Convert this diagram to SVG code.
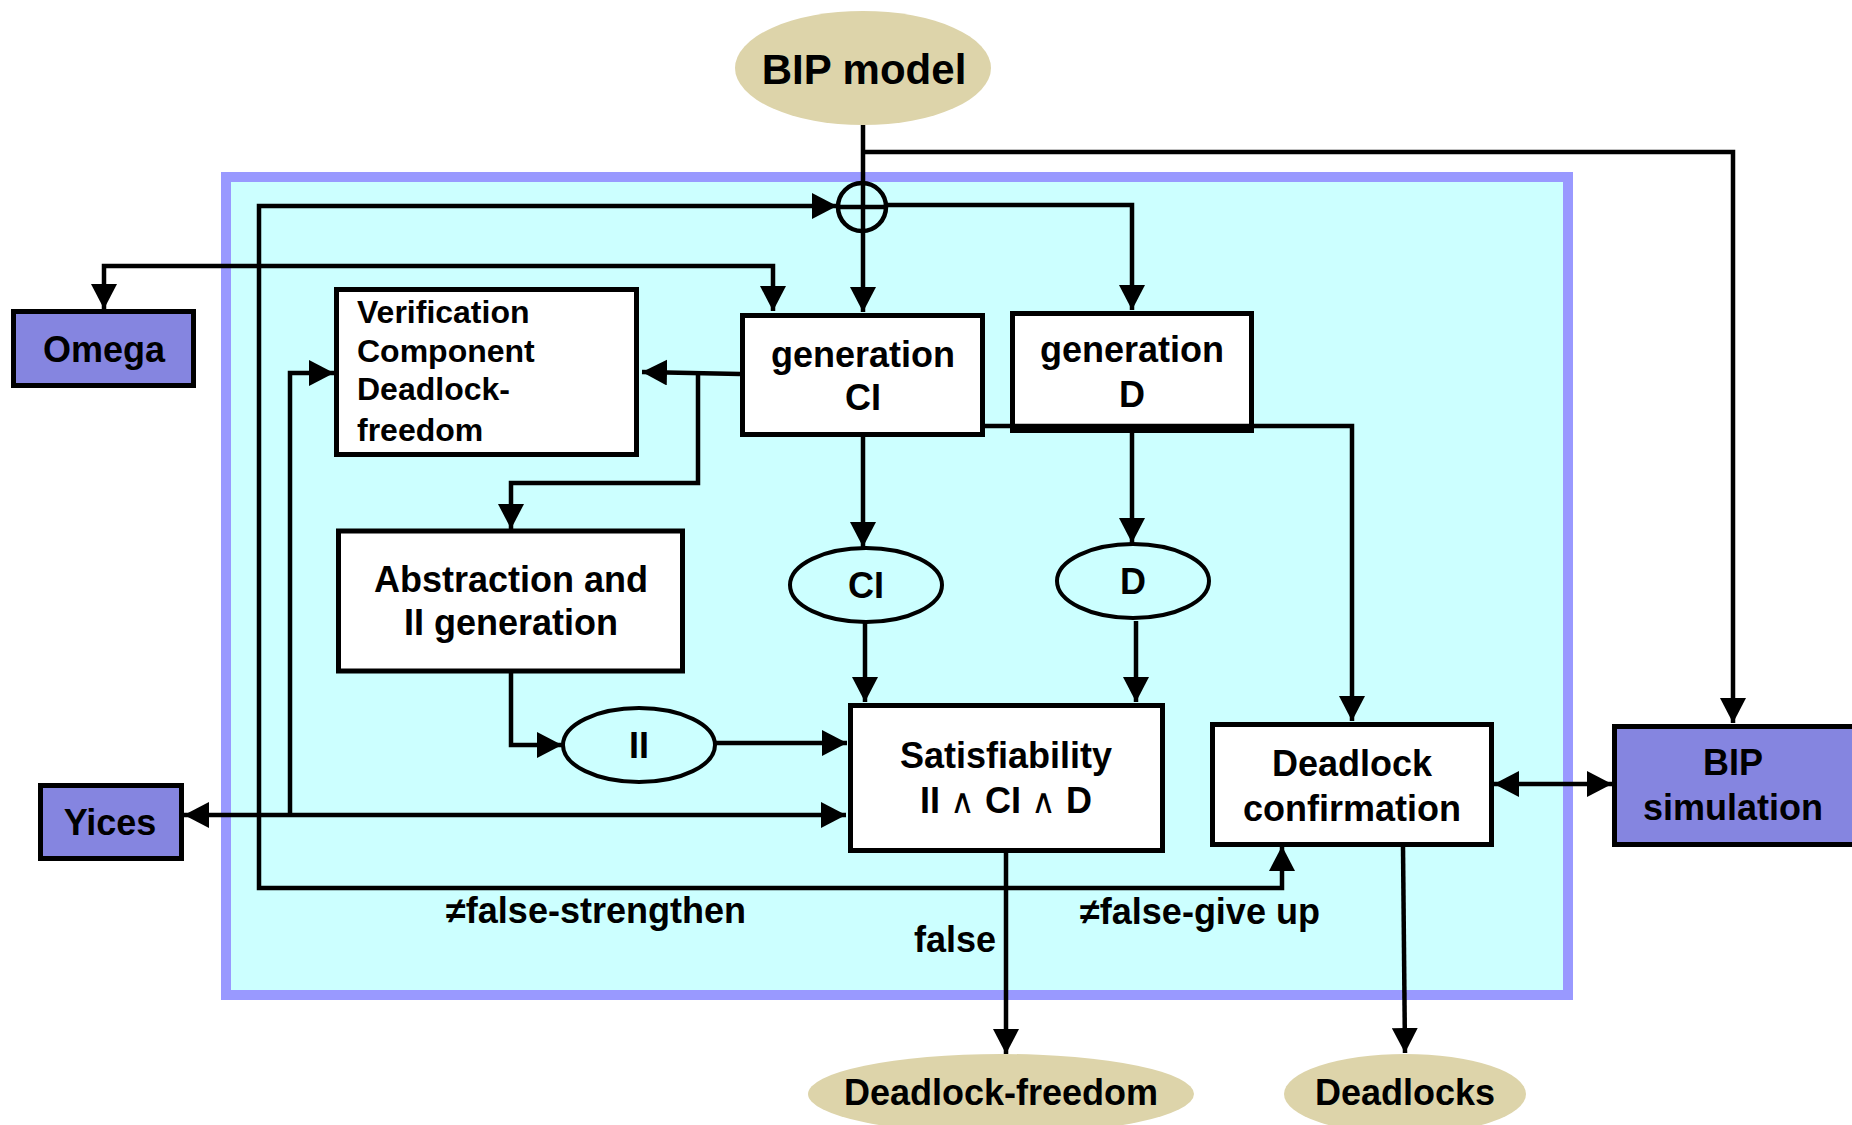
<svg xmlns="http://www.w3.org/2000/svg" width="1852" height="1125" viewBox="0 0 1852 1125">
  <style>
    text { font-family: "Liberation Sans", Arial, sans-serif; font-weight: bold; fill: #000; }
    .c { text-anchor: middle; }
    .box { fill: #fff; stroke: #000; stroke-width: 5; }
    .tool { fill: #8585e0; stroke: #000; stroke-width: 5; }
    .data { fill: none; stroke: #000; stroke-width: 4; }
    .io { fill: #ddd4aa; stroke: none; }
    .wire { fill: none; stroke: #000; stroke-width: 4.5; }
    .arr { marker-end: url(#head); }
    .both { marker-start: url(#head); marker-end: url(#head); }
    .op { font-family: "DejaVu Sans", sans-serif; font-weight: normal; font-size: 34px; }
  </style>
  <defs>
    <marker id="head" markerUnits="userSpaceOnUse" markerWidth="26" markerHeight="26" refX="25" refY="13" orient="auto-start-reverse">
      <path d="M0,0 L25,13 L0,26 z" fill="#000"/>
    </marker>
  </defs>

  <rect width="1852" height="1125" fill="#fff"/>

  <!-- verification loop frame -->
  <rect id="frame" x="226" y="177" width="1342" height="818" fill="#ccffff" stroke="#9999ff" stroke-width="10"/>

  <g id="bip-model">
    <ellipse class="io" cx="863" cy="68" rx="128" ry="57"/>
    <text class="c" x="864" y="84" font-size="42">BIP model</text>
  </g>

  <g id="omega">
    <rect class="tool" x="13.5" y="311.5" width="180" height="74"/>
    <text class="c" x="104" y="362" font-size="36">Omega</text>
  </g>

  <g id="verification">
    <rect class="box" x="336.5" y="289.5" width="300" height="165"/>
    <text x="357" y="323" font-size="32">Verification</text>
    <text x="357" y="362" font-size="32">Component</text>
    <text x="357" y="400" font-size="32">Deadlock-</text>
    <text x="357" y="441" font-size="32">freedom</text>
  </g>

  <g id="gen-ci">
    <rect class="box" x="742.5" y="315.5" width="240" height="119"/>
    <text class="c" x="863" y="367" font-size="36">generation</text>
    <text class="c" x="863" y="410" font-size="36">CI</text>
  </g>

  <g id="gen-d">
    <rect class="box" x="1012.5" y="313.5" width="239" height="117"/>
    <text class="c" x="1132" y="362" font-size="36">generation</text>
    <text class="c" x="1132" y="407" font-size="36">D</text>
  </g>

  <g id="abstraction">
    <rect class="box" x="338.5" y="531" width="344" height="140"/>
    <text class="c" x="511" y="592" font-size="36">Abstraction and</text>
    <text class="c" x="511" y="635" font-size="36">II generation</text>
  </g>

  <g id="ci">
    <ellipse class="data" cx="866" cy="585" rx="76" ry="37"/>
    <text class="c" x="866" y="598" font-size="36">CI</text>
  </g>

  <g id="d">
    <ellipse class="data" cx="1133" cy="581" rx="76" ry="37"/>
    <text class="c" x="1133" y="594" font-size="36">D</text>
  </g>

  <g id="ii">
    <ellipse class="data" cx="639" cy="745" rx="76" ry="37"/>
    <text class="c" x="639" y="758" font-size="36">II</text>
  </g>

  <g id="satisfiability">
    <rect class="box" x="850.5" y="705.5" width="312" height="145"/>
    <text class="c" x="1006" y="768" font-size="36">Satisfiability</text>
    <text class="c" x="1006" y="813" font-size="36">II <tspan class="op">∧</tspan> CI <tspan class="op">∧</tspan> D</text>
  </g>

  <g id="deadlock-confirmation">
    <rect class="box" x="1212.5" y="724.5" width="279" height="120"/>
    <text class="c" x="1352" y="776" font-size="36">Deadlock</text>
    <text class="c" x="1352" y="821" font-size="36">confirmation</text>
  </g>

  <g id="yices">
    <rect class="tool" x="40.5" y="785.5" width="141" height="73"/>
    <text class="c" x="110" y="835" font-size="36">Yices</text>
  </g>

  <g id="bip-simulation">
    <rect class="tool" x="1614.5" y="726.5" width="260" height="118"/>
    <text class="c" x="1733" y="775" font-size="36">BIP</text>
    <text class="c" x="1733" y="820" font-size="36">simulation</text>
  </g>

  <g id="deadlock-freedom">
    <ellipse class="io" cx="1001" cy="1094" rx="193" ry="40"/>
    <text class="c" x="1001" y="1105" font-size="36">Deadlock-freedom</text>
  </g>

  <g id="deadlocks">
    <ellipse class="io" cx="1405" cy="1094" rx="121" ry="40"/>
    <text class="c" x="1405" y="1105" font-size="36">Deadlocks</text>
  </g>

  <!-- connectors, drawn last so the CI-to-confirmation wire shows across generation D -->
  <g id="connectors">
    <circle cx="862" cy="207" r="24" fill="none" stroke="#000" stroke-width="4.5"/>
    <path class="wire" d="M838,207 H886"/>
    <path class="wire arr" d="M863,125 V312"/>
    <path class="wire arr" d="M863,152 H1733 V723"/>
    <path class="wire arr" d="M886,205 H1132 V310"/>
    <path class="wire both" d="M1282,846 V888 H259 V206 H837"/>
    <path class="wire both" d="M773,311 V266 H104 V309"/>
    <path class="wire arr" d="M740,374 L642,372"/>
    <path class="wire arr" d="M698,374 V483 H511 V529"/>
    <path class="wire both" d="M184,815 H846"/>
    <path class="wire arr" d="M290,815 V373 H334"/>
    <path class="wire arr" d="M511,673 V745 H562"/>
    <path class="wire arr" d="M715,743 H847"/>
    <path class="wire arr" d="M863,437 V547"/>
    <path class="wire arr" d="M865,623 V702"/>
    <path class="wire arr" d="M1132,433 V543"/>
    <path class="wire arr" d="M1136,621 V702"/>
    <path class="wire arr" d="M985,426 H1352 V721"/>
    <path class="wire arr" d="M1006,853 V1054"/>
    <path class="wire arr" d="M1403,847 L1405,1053"/>
    <path class="wire both" d="M1494,784 H1612"/>
  </g>

  <g id="labels">
    <text class="c" x="596" y="923" font-size="36">≠false-strengthen</text>
    <text class="c" x="955" y="952" font-size="36">false</text>
    <text class="c" x="1200" y="924" font-size="36">≠false-give up</text>
  </g>
</svg>
